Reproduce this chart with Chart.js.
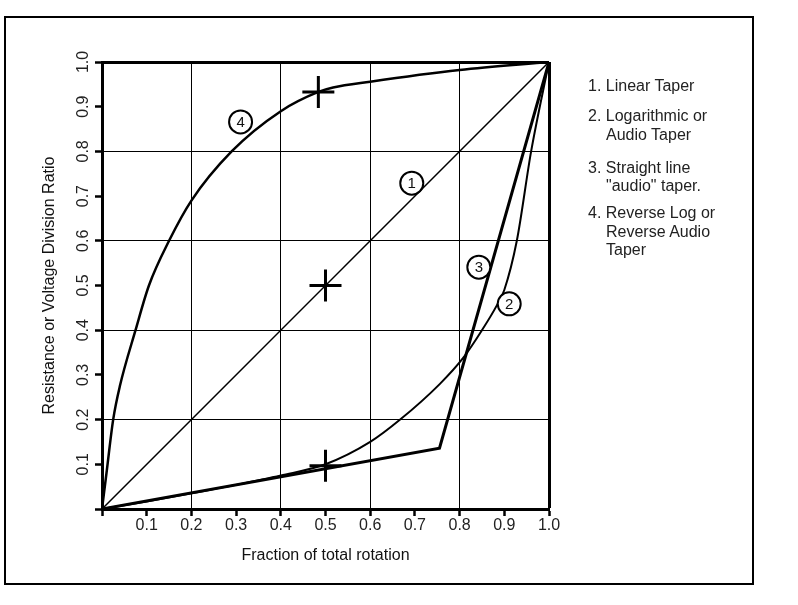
<!DOCTYPE html>
<html>
<head>
<meta charset="utf-8">
<script src="https://cdn.jsdelivr.net/npm/chart.js@4.4.0/dist/chart.umd.min.js"></script>
<style>
  body { margin: 0; background: #fff; }
  #wrap { position: relative; width: 798px; height: 605px; }
  #frame { position: absolute; left: 4px; top: 16px; width: 746px; height: 565px; border: 2px solid #000; pointer-events: none; }
  .leg { position: absolute; font: 16px "Liberation Sans", Arial, sans-serif; line-height: 16px; color: #222; white-space: pre; }
</style>
</head>
<body>
<div id="wrap">
  <canvas id="chart" width="798" height="605"></canvas>
  <div id="frame"></div>
</div>
<script>
// Curve 1 - linear taper
const linearX = [0, 1];
const linearY = [0, 1];

// Curve 2 - logarithmic / audio taper
const audioX = [0, 0.1, 0.2, 0.3, 0.4, 0.5, 0.6, 0.667, 0.756, 0.808, 0.85, 0.883, 0.9, 0.928, 0.96, 1.0];
const audioY = [0, 0.017, 0.035, 0.054, 0.075, 0.1, 0.15, 0.2, 0.28, 0.338, 0.4, 0.455, 0.49, 0.6, 0.8, 1.0];

// Curve 3 - straight line "audio" taper
const straightX = [0, 0.755, 1];
const straightY = [0, 0.136, 1];

// Curve 4 - reverse log taper
const reverseX = [0, 0.01, 0.025, 0.04, 0.075, 0.105, 0.15, 0.2, 0.29, 0.4, 0.484, 0.517, 0.6, 0.8, 1];
const reverseY = [0, 0.08, 0.2, 0.275, 0.4, 0.5, 0.6, 0.69, 0.8, 0.89, 0.933, 0.943, 0.956, 0.982, 1];

// "+" markers
const crossX = [0.484, 0.5, 0.5];
const crossY = [0.933, 0.5, 0.097];

// circled curve numbers
const tagX = [0.693, 0.911, 0.843, 0.31];
const tagY = [0.729, 0.459, 0.541, 0.866];
const tagLabels = ['1', '2', '3', '4'];

// legend text lines: [text, left, baseline]
const legendLines = [
    ['1. Linear Taper', 588, 91.7],
    ['2. Logarithmic or', 588, 121.7],
    ['Audio Taper', 606, 140],
    ['3. Straight line', 588, 173.3],
    ['"audio" taper.', 606, 191.7],
    ['4. Reverse Log or', 588, 218.3],
    ['Reverse Audio', 606, 237.3],
    ['Taper', 606, 255]
];

const FONT = '"Liberation Sans", Arial, sans-serif';

function pts(xs, ys) {
    return xs.map((x, i) => ({ x: x, y: ys[i] }));
}

// legend as html text
const wrap = document.getElementById('wrap');
legendLines.forEach(([text, left, base]) => {
    const d = document.createElement('div');
    d.className = 'leg';
    d.textContent = text;
    d.style.left = left + 'px';
    d.style.top = (base - 13.5) + 'px';
    wrap.appendChild(d);
});

// write the numbers inside the circles
const tagText = {
    id: 'tagText',
    afterDatasetsDraw(chart) {
        const meta = chart.getDatasetMeta(5);
        const ctx = chart.ctx;
        ctx.save();
        ctx.fillStyle = '#111';
        ctx.font = '15px ' + FONT;
        ctx.textAlign = 'center';
        ctx.textBaseline = 'middle';
        meta.data.forEach((p, i) => ctx.fillText(tagLabels[i], p.x, p.y + 1));
        ctx.restore();
    }
};

const even = v => Math.round(v * 10) % 2 === 0;
const isOne = v => Math.abs(v - 1) < 1e-6;

new Chart(document.getElementById('chart'), {
    type: 'line',
    data: {
        datasets: [
            { data: pts(linearX, linearY), borderColor: '#000', borderWidth: 1.5, pointRadius: 0, tension: 0, order: 3 },
            { data: pts(audioX, audioY), borderColor: '#000', borderWidth: 2, pointRadius: 0, cubicInterpolationMode: 'monotone', order: 3 },
            { data: pts(straightX, straightY), borderColor: '#000', borderWidth: 3, pointRadius: 0, tension: 0, order: 3 },
            { data: pts(reverseX, reverseY), borderColor: '#000', borderWidth: 2.5, pointRadius: 0, cubicInterpolationMode: 'monotone', order: 3 },
            {
                data: pts(crossX, crossY), showLine: false, pointStyle: 'cross', pointRadius: 16,
                pointBorderWidth: 3, pointBorderColor: '#000', order: 2
            },
            {
                data: pts(tagX, tagY), showLine: false, pointStyle: 'circle', pointRadius: 11.5,
                pointBorderWidth: 2, pointBorderColor: '#000', pointBackgroundColor: '#fff', order: 1
            }
        ]
    },
    options: {
        responsive: false,
        animation: false,
        devicePixelRatio: 1,
        layout: { padding: { top: 62, right: 249, left: 0, bottom: 0 } },
        plugins: { legend: { display: false }, tooltip: { enabled: false } },
        scales: {
            x: {
                type: 'linear', min: 0, max: 1,
                afterFit: s => { s.height = 96; },
                border: { display: true, color: '#000', width: 3 },
                grid: {
                    color: c => (c.tick && even(c.tick.value)) ? '#000' : 'rgba(0,0,0,0)',
                    lineWidth: c => (c.tick && isOne(c.tick.value)) ? 3 : 1,
                    tickColor: '#000', tickWidth: 2.5, tickLength: 7
                },
                ticks: {
                    stepSize: 0.1, autoSkip: false, maxRotation: 0, padding: 0,
                    color: '#222', font: { family: FONT, size: 16 },
                    callback: v => v === 0 ? '' : v.toFixed(1)
                },
                title: {
                    display: true, text: 'Fraction of total rotation', color: '#111',
                    font: { family: FONT, size: 16 }, padding: { top: 0, bottom: 40 }
                }
            },
            y: {
                type: 'linear', min: 0, max: 1,
                afterFit: s => { s.width = 102; },
                border: { display: true, color: '#000', width: 3 },
                grid: {
                    color: c => (c.tick && even(c.tick.value)) ? '#000' : 'rgba(0,0,0,0)',
                    lineWidth: c => (c.tick && isOne(c.tick.value)) ? 3 : 1,
                    tickColor: '#000', tickWidth: 2.5, tickLength: 7
                },
                ticks: {
                    stepSize: 0.1, autoSkip: false, minRotation: 90, maxRotation: 90,
                    crossAlign: 'center', padding: 0,
                    color: '#222', font: { family: FONT, size: 16 },
                    callback: v => v === 0 ? '' : v.toFixed(1)
                },
                title: {
                    display: true, text: 'Resistance or Voltage Division Ratio', color: '#111',
                    font: { family: FONT, size: 16 }, padding: { top: 40, bottom: 0 }
                }
            }
        }
    },
    plugins: [tagText]
});
</script>
</body>
</html>
